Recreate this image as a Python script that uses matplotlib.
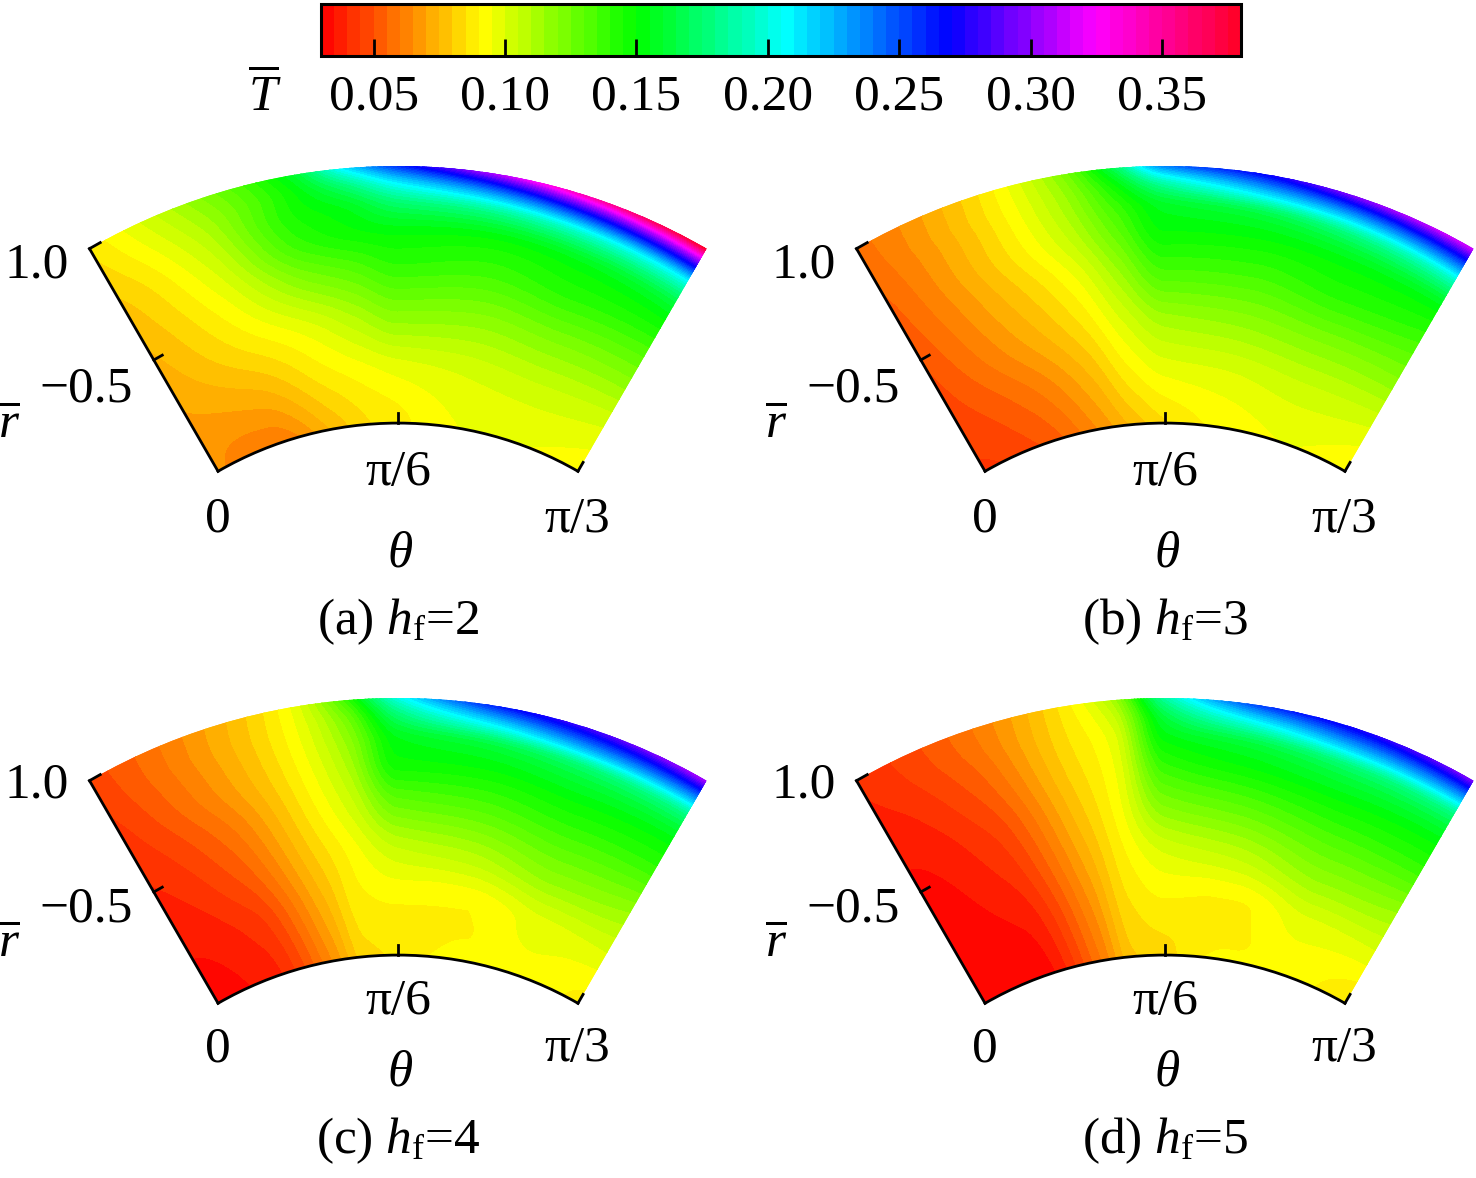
import numpy as np
import matplotlib
matplotlib.use("Agg")
import matplotlib.pyplot as plt
from matplotlib.colors import LinearSegmentedColormap

plt.rcParams['font.family'] = ['Liberation Serif', 'DejaVu Serif']
plt.rcParams['mathtext.fontset'] = 'custom'
plt.rcParams['mathtext.rm'] = 'Liberation Serif'
plt.rcParams['mathtext.it'] = 'Liberation Serif:italic'
plt.rcParams['mathtext.bf'] = 'Liberation Serif:bold'

# ---------------- data ----------------
# normalised radial positions (0 = inner arc, 1 = outer arc)
r_nodes = [0.0, 0.2, 0.4, 0.6, 0.75, 0.85, 0.92, 1.0]
# angular positions as fraction of pi/3 (0 = left edge, 1 = right edge)
theta_frac = [0.0, 1/6, 1/3, 5/12, 1/2, 2/3, 5/6, 1.0]

# dimensionless temperature, rows = r_nodes, columns = theta_frac
T_a = [
    [0.067, 0.060, 0.076, 0.084, 0.088, 0.095, 0.095, 0.092],
    [0.069, 0.073, 0.087, 0.092, 0.096, 0.100, 0.102, 0.100],
    [0.072, 0.085, 0.099, 0.108, 0.116, 0.115, 0.118, 0.118],
    [0.076, 0.094, 0.122, 0.130, 0.138, 0.135, 0.140, 0.140],
    [0.079, 0.101, 0.140, 0.148, 0.152, 0.150, 0.155, 0.162],
    [0.082, 0.106, 0.146, 0.156, 0.172, 0.180, 0.192, 0.202],
    [0.084, 0.110, 0.149, 0.172, 0.200, 0.228, 0.252, 0.268],
    [0.086, 0.115, 0.158, 0.210, 0.255, 0.310, 0.350, 0.376],
]
T_b = [
    [0.044, 0.050, 0.066, 0.076, 0.084, 0.092, 0.095, 0.090],
    [0.047, 0.057, 0.075, 0.088, 0.096, 0.099, 0.102, 0.100],
    [0.049, 0.066, 0.085, 0.100, 0.112, 0.115, 0.118, 0.118],
    [0.052, 0.072, 0.095, 0.115, 0.135, 0.135, 0.140, 0.137],
    [0.054, 0.076, 0.105, 0.128, 0.150, 0.150, 0.153, 0.155],
    [0.056, 0.077, 0.110, 0.136, 0.158, 0.166, 0.178, 0.190],
    [0.057, 0.078, 0.113, 0.145, 0.180, 0.210, 0.225, 0.240],
    [0.058, 0.078, 0.118, 0.165, 0.235, 0.270, 0.300, 0.315],
]
T_c = [
    [0.033, 0.038, 0.066, 0.083, 0.086, 0.093, 0.094, 0.087],
    [0.035, 0.042, 0.073, 0.088, 0.090, 0.090, 0.097, 0.098],
    [0.038, 0.050, 0.080, 0.093, 0.103, 0.108, 0.117, 0.114],
    [0.041, 0.057, 0.087, 0.104, 0.128, 0.132, 0.138, 0.138],
    [0.043, 0.063, 0.091, 0.112, 0.148, 0.150, 0.155, 0.155],
    [0.045, 0.065, 0.093, 0.117, 0.155, 0.165, 0.175, 0.180],
    [0.046, 0.066, 0.094, 0.122, 0.170, 0.205, 0.225, 0.230],
    [0.047, 0.066, 0.095, 0.135, 0.200, 0.262, 0.285, 0.305],
]
T_d = [
    [0.031, 0.032, 0.060, 0.079, 0.083, 0.092, 0.092, 0.084],
    [0.032, 0.035, 0.065, 0.084, 0.089, 0.089, 0.097, 0.097],
    [0.033, 0.040, 0.071, 0.089, 0.100, 0.106, 0.116, 0.114],
    [0.035, 0.045, 0.077, 0.094, 0.122, 0.130, 0.137, 0.138],
    [0.037, 0.050, 0.081, 0.096, 0.140, 0.150, 0.155, 0.155],
    [0.039, 0.053, 0.083, 0.098, 0.152, 0.165, 0.175, 0.178],
    [0.040, 0.055, 0.084, 0.102, 0.162, 0.200, 0.220, 0.225],
    [0.041, 0.056, 0.085, 0.110, 0.185, 0.255, 0.275, 0.295],
]
fields = [T_a, T_b, T_c, T_d]
panel_letters = ['a', 'b', 'c', 'd']
hf_values = [2, 3, 4, 5]

r_tick_vals = [0.5, 1.0]
r_tick_labels = ['\u22120.5', '1.0']
theta_tick_labels = ['0', '\u03c0/6', '\u03c0/3']

cbar_ticks = [0.05, 0.10, 0.15, 0.20, 0.25, 0.30, 0.35]
cbar_ticklabels = ['0.05', '0.10', '0.15', '0.20', '0.25', '0.30', '0.35']
T_min, T_max = 0.03, 0.38

cmap_values = [0.03, 0.092, 0.150, 0.207, 0.269, 0.325, 0.38]
cmap_colors = ['#ff0000', '#ffff00', '#00ff00', '#00ffff', '#0000ff', '#ff00ff', '#ff0026']


# ---------------- smooth (monotone cubic) resampling of the read grid ----------------
def pchip_slopes(x, y):
    h = np.diff(x)
    delta = np.diff(y) / h
    n = len(x)
    d = np.zeros(n)
    for k in range(1, n - 1):
        if delta[k - 1] * delta[k] > 0:
            w1 = 2 * h[k] + h[k - 1]
            w2 = h[k] + 2 * h[k - 1]
            d[k] = (w1 + w2) / (w1 / delta[k - 1] + w2 / delta[k])
    d0 = ((2 * h[0] + h[1]) * delta[0] - h[0] * delta[1]) / (h[0] + h[1])
    if np.sign(d0) != np.sign(delta[0]):
        d0 = 0.0
    dn = ((2 * h[-1] + h[-2]) * delta[-1] - h[-1] * delta[-2]) / (h[-1] + h[-2])
    if np.sign(dn) != np.sign(delta[-1]):
        dn = 0.0
    d[0], d[-1] = d0, dn
    return d


def pchip(x, y, xn):
    x = np.asarray(x, float)
    y = np.asarray(y, float)
    d = pchip_slopes(x, y)
    idx = np.clip(np.searchsorted(x, xn) - 1, 0, len(x) - 2)
    h = x[idx + 1] - x[idx]
    t = (xn - x[idx]) / h
    h00 = 2 * t**3 - 3 * t**2 + 1
    h10 = t**3 - 2 * t**2 + t
    h01 = -2 * t**3 + 3 * t**2
    h11 = t**3 - t**2
    return h00 * y[idx] + h10 * h * d[idx] + h01 * y[idx + 1] + h11 * h * d[idx + 1]


theta_nodes = np.array(theta_frac) * np.pi / 3
th_fine = np.linspace(0, np.pi / 3, 181)
r_fine = np.linspace(0, 1, 121)


def resample(T):
    T = np.asarray(T, float)
    rows = np.array([pchip(theta_nodes, T[i], th_fine) for i in range(T.shape[0])])
    cols = np.array([pchip(r_nodes, rows[:, j], r_fine) for j in range(rows.shape[1])]).T
    return cols


# ---------------- figure ----------------
W, H = 1476, 1178
fig = plt.figure(figsize=(W / 100, H / 100), dpi=100)

cmap = LinearSegmentedColormap.from_list(
    'rainbowT',
    list(zip([(v - T_min) / (T_max - T_min) for v in cmap_values], cmap_colors)))
levels = np.linspace(T_min, T_max, 71)

R_ORIGIN = -1.4
FS = 37

# panel layout in pixels: centre x of the wedge, top of outer arc
panel_cx = [398, 1165, 398, 1165]
panel_top = [166, 166, 698, 698]
OUTER_W = 617


def fit_axes(ax, cx, top, width_px):
    for _ in range(3):
        pts = ax.transData.transform([[0, 1.0], [np.pi / 3, 1.0], [np.pi / 6, 1.0]])
        cur_w = pts[1, 0] - pts[0, 0]
        pos = ax.get_position()
        s = width_px / cur_w
        ll = np.array([pos.x0 * W, pos.y0 * H])
        wpx, hpx = pos.width * W * s, pos.height * H * s
        p_mid = ll + (pts[2] - ll) * s
        dx = cx - p_mid[0]
        dy = (H - top) - p_mid[1]
        ax.set_position([(ll[0] + dx) / W, (ll[1] + dy) / H, wpx / W, hpx / H])


def ftext(x, y, s, **kw):
    fig.text(x / W, 1 - y / H, s, ha='center', va='baseline', fontsize=FS, **kw)


TH_F, R_F = np.meshgrid(th_fine, r_fine)
cs_ref = None
for p in range(4):
    size = 617
    ax = fig.add_axes([(panel_cx[p] - size / 2) / W, 1 - (panel_top[p] + size) / H,
                       size / W, size / H], projection='polar')
    ax.set_theta_offset(np.deg2rad(120))
    ax.set_theta_direction(-1)
    ax.set_thetamin(0)
    ax.set_thetamax(60)
    ax.set_rorigin(R_ORIGIN)
    ax.set_rlim(0, 1)

    Z = np.clip(resample(fields[p]), T_min + 1e-4, T_max - 1e-4)
    cs = ax.contourf(TH_F, R_F, Z, levels=levels, cmap=cmap)
    cs.set_edgecolor('face')
    cs.set_linewidth(0.4)
    if cs_ref is None:
        cs_ref = cs

    # ticks
    for rv in r_tick_vals:
        ax.plot([0, 0.02], [rv, rv], color='k', lw=2, clip_on=False, zorder=5)
    for tv in [np.pi / 6, np.pi / 3]:
        ax.plot([tv, tv], [0, 0.04], color='k', lw=2, clip_on=False, zorder=5)

    ax.set_xticks([])
    ax.set_yticks([])
    ax.grid(False)
    for key in ['polar', 'end']:
        sp = ax.spines[key]
        sp.set_color('none')
        sp.set_linewidth(0)
    ax.spines['start'].set_linewidth(2)
    ax.spines['inner'].set_linewidth(2)
    ax.set_thetamin(0)
    ax.set_thetamax(60)
    ax.set_rlim(0, 1)
    ax.set_rorigin(R_ORIGIN)

    fit_axes(ax, panel_cx[p], panel_top[p], OUTER_W)

    # labels (pixel positions)
    cx = panel_cx[p]
    row = p // 2
    dl = 0 if row == 0 else 519
    db = 0 if row == 0 else 529
    ftext(cx - 361, 278 + dl, r_tick_labels[1])
    ftext(cx - 312, 402 + dl, r_tick_labels[0])
    ftext(cx - 389, 438 + dl, r'$\overline{r}$')
    ftext(cx - 180, 532 + db, theta_tick_labels[0])
    ftext(cx + 0, 485 + db, theta_tick_labels[1])
    ftext(cx + 179, 532 + db, theta_tick_labels[2])
    ftext(cx + 2, 567 + dl, r'$\theta$')
    ftext(cx + 0, 634 + dl,
          '(%s) $h_\\mathrm{f}$=%d' % (panel_letters[p], hf_values[p]))

# colour bar
cax = fig.add_axes([321 / W, 1 - 56 / H, 920 / W, 52 / H])
cb = fig.colorbar(cs_ref, cax=cax, orientation='horizontal', ticks=cbar_ticks)
cb.ax.set_xticklabels(cbar_ticklabels)
cb.outline.set_linewidth(2.2)
cb.ax.tick_params(axis='x', direction='in', length=12, width=2,
                  labelsize=FS, pad=13, colors='black')
ftext(265, 111, r'$\overline{T}$')

fig.savefig('out.png', dpi=100)
